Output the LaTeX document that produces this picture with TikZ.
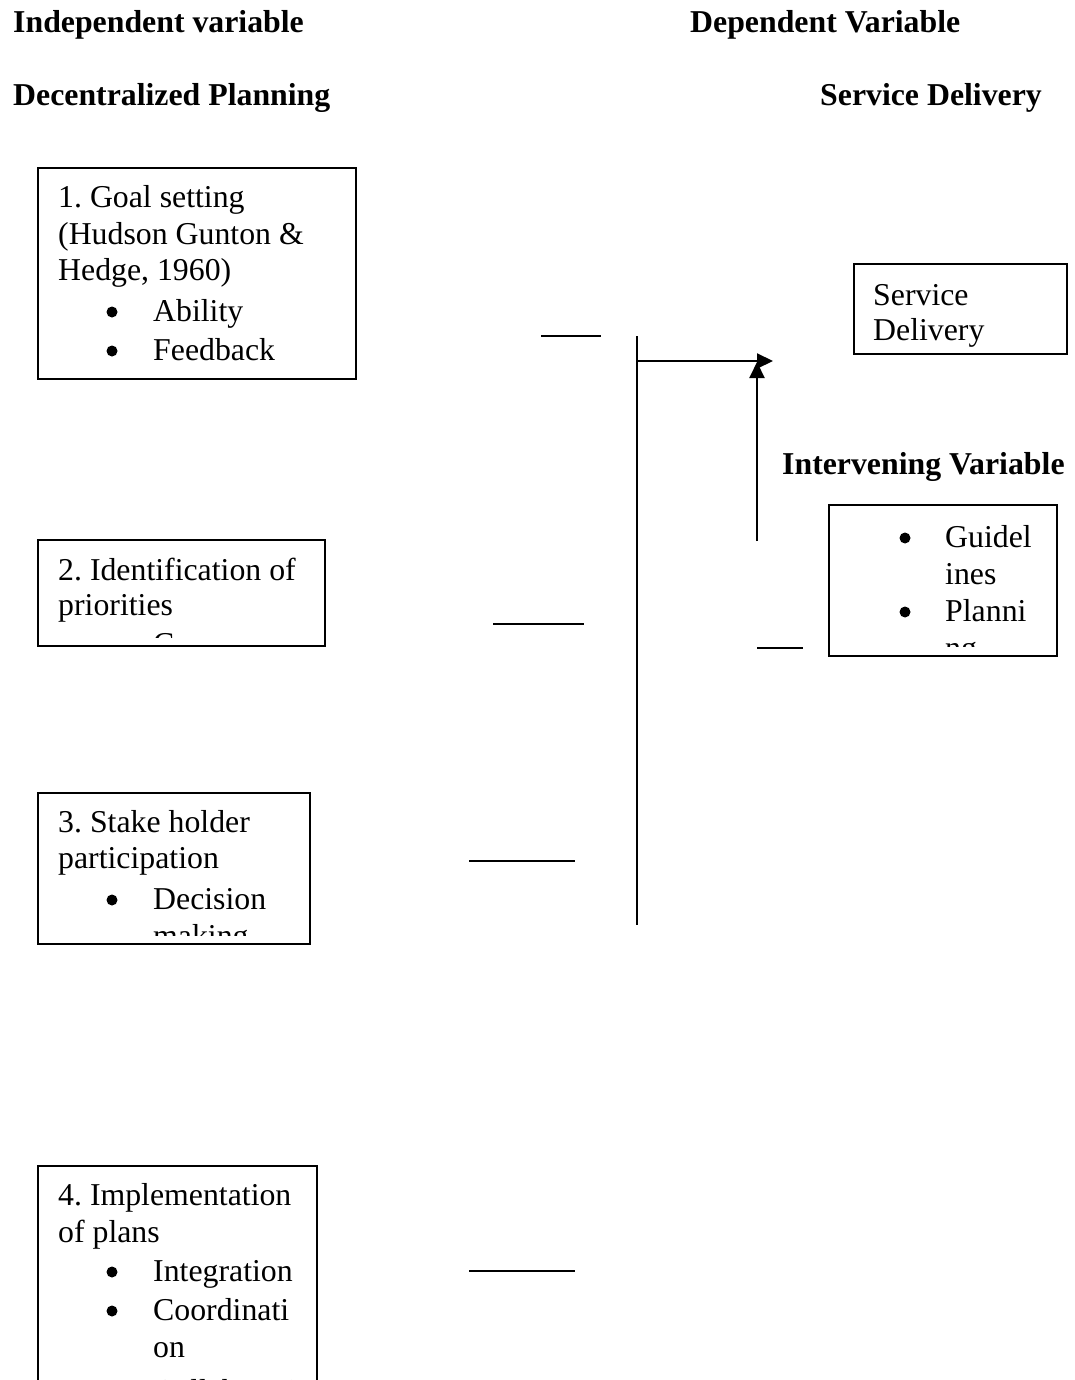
\documentclass[tikz,border=0pt]{standalone}
\usepackage{fontspec}
\setmainfont{Liberation Serif}
\usetikzlibrary{arrows.meta}
\frenchspacing
\begin{document}
\begin{tikzpicture}[x=1pt,y=-1pt,
  txt/.style={anchor=base west,inner sep=0pt,font=\fontsize{31.8}{38}\selectfont},
  hdr/.style={anchor=base west,inner sep=0pt,font=\fontsize{31.8}{38}\selectfont\bfseries},
  boxframe/.style={draw,line width=1.8pt,anchor=north west,inner sep=0pt},
  conn/.style={line width=2pt},
  arr/.style={line width=2pt,-{Triangle[length=16pt,width=15pt]}},
  bulletdot/.style={fill=black}
  ]
\useasboundingbox (0,0) rectangle (1074,1380);
\clip (0,0) rectangle (1074,1380);

% headers
\node[hdr] (hIndep) at (13,33) {Independent variable};
\node[hdr] (hDep) at (690,33) {Dependent Variable};
\node[hdr] (hDP) at (13,106) {Decentralized Planning};
\node[hdr] (hSD) at (820,106) {Service Delivery};
\node[hdr] (hIV) at (782,474) {Intervening Variable};

% boxes
\node[boxframe,minimum width=318pt,minimum height=211pt] (b1) at (37,167) {};
\node[boxframe,minimum width=213pt,minimum height=90pt] (sd) at (853,263) {};
\node[boxframe,minimum width=287pt,minimum height=106pt] (b2) at (37,539) {};
\node[boxframe,minimum width=228pt,minimum height=151pt] (iv) at (828,504) {};
\node[boxframe,minimum width=272pt,minimum height=151pt] (b3) at (37,792) {};
\node[boxframe,minimum width=279pt,minimum height=260pt] (b4) at (37,1165) {};

% box 1 text
\node[txt] (t11) at (58,208) {1. Goal setting};
\node[txt] (t12) at (58,244) {(Hudson Gunton \&};
\node[txt] (t13) at (58,280) {Hedge, 1960)};
\fill[bulletdot] (112,312) circle[radius=5.5];
\node[txt] (t14) at (153,321) {Ability};
\fill[bulletdot] (112,351) circle[radius=5.5];
\node[txt] (t15) at (153,360) {Feedback};

% service delivery box text
\node[txt] (tsd1) at (873,305) {Service};
\node[txt] (tsd2) at (873,340) {Delivery};

% box 2 text
\node[txt] (t21) at (58,580) {2. Identification of};
\node[txt] (t22) at (58,615) {priorities};
\begin{scope}
  \clip (37,539) rectangle (324,637);
  \fill[bulletdot] (112,644) circle[radius=5.5];
  \node[txt] (t23) at (153,654) {Consensus};
\end{scope}

% box 3 text
\node[txt] (t31) at (58,832) {3. Stake holder};
\node[txt] (t32) at (58,868) {participation};
\fill[bulletdot] (112,900) circle[radius=5.5];
\node[txt] (t33) at (153,909) {Decision};
\begin{scope}
  \clip (37,792) rectangle (309,935);
  \node[txt] (t34) at (153,946) {making};
\end{scope}

% intervening box text
\fill[bulletdot] (905,538) circle[radius=5.5];
\node[txt] (tiv1) at (945,547) {Guidel};
\node[txt] (tiv2) at (945,584) {ines};
\fill[bulletdot] (905,612) circle[radius=5.5];
\node[txt] (tiv3) at (945,621) {Planni};
\begin{scope}
  \clip (828,504) rectangle (1056,646);
  \node[txt] (tiv4) at (945,658) {ng};
\end{scope}

% box 4 text
\node[txt] (t41) at (58,1205) {4. Implementation};
\node[txt] (t42) at (58,1242) {of plans};
\fill[bulletdot] (112,1272) circle[radius=5.5];
\node[txt] (t43) at (153,1281) {Integration};
\fill[bulletdot] (112,1311) circle[radius=5.5];
\node[txt] (t44) at (153,1320) {Coordinati};
\node[txt] (t45) at (153,1357) {on};
\fill[bulletdot] (112,1392) circle[radius=5.5];
\node[txt] (t46) at (153,1401) {Collaboration};

% connector coordinates
\coordinate (l1a) at (541,336); \coordinate (l1b) at (601,336);
\coordinate (l2a) at (493,624); \coordinate (l2b) at (584,624);
\coordinate (l3a) at (469,861); \coordinate (l3b) at (575,861);
\coordinate (l4a) at (469,1271); \coordinate (l4b) at (575,1271);
\coordinate (vtop) at (637,336); \coordinate (vbot) at (637,925);
\coordinate (hstart) at (637,361); \coordinate (htip) at (773,361);
\coordinate (ustart) at (757,541); \coordinate (utip) at (757,362);
\coordinate (s1) at (757,648); \coordinate (s2) at (803,648);

\draw[conn] (l1a) -- (l1b);
\draw[conn] (l2a) -- (l2b);
\draw[conn] (l3a) -- (l3b);
\draw[conn] (l4a) -- (l4b);
\draw[conn] (vtop) -- (vbot);
\draw[arr] (hstart) -- (htip);
\draw[arr] (ustart) -- (utip);
\draw[conn] (s1) -- (s2);
\end{tikzpicture}
\end{document}
